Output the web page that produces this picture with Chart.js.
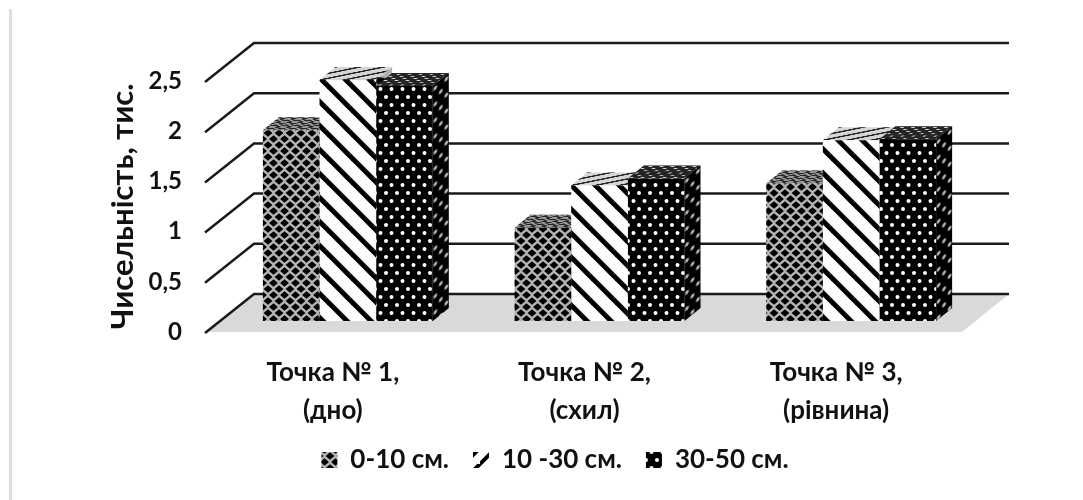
<!DOCTYPE html>
<html>
<head>
<meta charset="utf-8">
<style>
  html, body { margin: 0; padding: 0; background: #fff; }
  #wrap { position: relative; width: 1083px; height: 500px; overflow: hidden; }
  #edge { position: absolute; left: 9px; top: 9px; width: 3px; bottom: 0; background: #dedede; }
  #chart { position: absolute; left: 0; top: 0; filter: blur(0.5px); }
</style>
<script src="https://cdn.jsdelivr.net/npm/chart.js@4"></script>
</head>
<body>
<div id="wrap">
  <div id="edge"></div>
  <canvas id="chart" width="1083" height="500"></canvas>
</div>
<script>
var categories = [["Точка № 1,", "(дно)"], ["Точка № 2,", "(схил)"], ["Точка № 3,", "(рівнина)"]];
var depth0to10 = [1.9, 0.93, 1.37];
var depth10to30 = [2.4, 1.35, 1.8];
var depth30to50 = [2.34, 1.42, 1.81];
var seriesNames = ["0-10 см.", "10 -30 см.", "30-50 см."];
var axisTitle = "Чисельність, тис.";
var fontName = "Lato, 'Open Sans', sans-serif";

function tile(w, h, paint) {
    var c = document.createElement("canvas");
    c.width = w;
    c.height = h;
    paint(c.getContext("2d"));
    return document.createElement("canvas").getContext("2d").createPattern(c, "repeat");
}

function dot(g, x, y, r) {
    g.beginPath();
    g.arc(x, y, r, 0, Math.PI * 2);
    g.fill();
}

function diamond(g, x, y, rx, ry) {
    g.beginPath();
    g.moveTo(x - rx, y);
    g.lineTo(x, y - ry);
    g.lineTo(x + rx, y);
    g.lineTo(x, y + ry);
    g.closePath();
    g.fill();
}

var latticePattern = tile(11, 12, function(g) {
    g.fillStyle = "#b4b4b4";
    g.fillRect(0, 0, 11, 12);
    g.fillStyle = "#000";
    [[0, 0], [11, 0], [0, 12], [11, 12], [5.5, 6]].forEach(function(p) {
        diamond(g, p[0], p[1], 4.4, 3.8);
    });
});

var stripePattern = tile(24, 24, function(g) {
    g.fillStyle = "#fff";
    g.fillRect(0, 0, 24, 24);
    g.strokeStyle = "#000";
    g.lineWidth = 5;
    [-24, 0, 24].forEach(function(s) {
        g.beginPath();
        g.moveTo(s - 4, -4);
        g.lineTo(s + 28, 28);
        g.stroke();
    });
});

var dotPattern = tile(11, 16, function(g) {
    g.fillStyle = "#000";
    g.fillRect(0, 0, 11, 16);
    g.fillStyle = "#fff";
    dot(g, 2.5, 4, 2);
    dot(g, 8, 12, 2);
});

var legendStripe = tile(16, 16, function(g) {
    g.fillStyle = "#fff";
    g.fillRect(0, 0, 16, 16);
    g.strokeStyle = "#000";
    g.lineWidth = 4;
    [0, 16].forEach(function(s) {
        g.beginPath();
        g.moveTo(s - 20, 20);
        g.lineTo(s + 4, -4);
        g.stroke();
    });
});

var barPatterns = [latticePattern, stripePattern, dotPattern];

// depth of the 3d box, and where the bars stand on the floor
var barShift = { x: 15, y: -11 };
var barDepth = { x: 16, y: -13 };
var wallDepth = { x: 47, y: -38 };
var topSquash = 48;

var box3d = {
    id: "box3d",
    afterLayout: function(chart) {
        // the legend sits closer to the labels and further right than the layout puts it
        chart.legend.top = 423;
        chart.legend.left += 22;
        chart.legend.right += 22;
    },
    beforeDatasetsDraw: function(chart) {
        var ctx = chart.ctx;
        var yScale = chart.scales.y;
        var area = chart.chartArea;
        var floorY = yScale.getPixelForValue(0);

        ctx.save();
        ctx.fillStyle = "#d9d9d9";
        ctx.beginPath();
        ctx.moveTo(area.left, floorY);
        ctx.lineTo(area.left + wallDepth.x, floorY + wallDepth.y);
        ctx.lineTo(area.right + wallDepth.x, floorY + wallDepth.y);
        ctx.lineTo(area.right, floorY);
        ctx.closePath();
        ctx.fill();

        ctx.strokeStyle = "#1a1a1a";
        ctx.lineWidth = 2.5;
        yScale.ticks.forEach(function(t) {
            var y = yScale.getPixelForValue(t.value);
            ctx.beginPath();
            ctx.moveTo(area.left - 2, y + 1);
            ctx.lineTo(area.left + wallDepth.x, y + wallDepth.y);
            ctx.lineTo(area.right + wallDepth.x, y + wallDepth.y);
            ctx.stroke();
        });

        // tops and sides, left to right so that each box hides the one before
        categories.forEach(function(c, j) {
            chart.data.datasets.forEach(function(ds, i) {
                var bar = chart.getDatasetMeta(i).data[j];
                var left = bar.x - bar.width / 2 + barShift.x;
                var top = bar.y + barShift.y;
                var h = bar.base - bar.y;

                ctx.save();
                ctx.transform(1, 0, barDepth.x / topSquash, barDepth.y / topSquash, left, top);
                ctx.fillStyle = barPatterns[i];
                ctx.fillRect(0, 0, bar.width, topSquash);
                ctx.fillStyle = "rgba(120,120,120,0.3)";
                ctx.fillRect(0, 0, bar.width, topSquash);
                ctx.restore();

                ctx.save();
                ctx.transform(1, barDepth.y / barDepth.x, 0, 1, left + bar.width, top);
                ctx.fillStyle = barPatterns[i];
                ctx.fillRect(0, 0, barDepth.x, h);
                ctx.fillStyle = "rgba(0,0,0,0.3)";
                ctx.fillRect(0, 0, barDepth.x, h);
                ctx.restore();
            });
        });
        ctx.restore();

        // the library's own bars are the front faces
        ctx.save();
        ctx.translate(barShift.x, barShift.y);
    },
    afterDatasetsDraw: function(chart) {
        chart.ctx.restore();
    }
};

new Chart(document.getElementById("chart"), {
    type: "bar",
    data: {
        labels: categories,
        datasets: [
            { label: seriesNames[0], data: depth0to10, backgroundColor: latticePattern },
            { label: seriesNames[1], data: depth10to30, backgroundColor: stripePattern },
            { label: seriesNames[2], data: depth30to50, backgroundColor: dotPattern }
        ]
    },
    plugins: [box3d],
    options: {
        responsive: false,
        animation: false,
        clip: false,
        categoryPercentage: 0.675,
        barPercentage: 1,
        layout: { padding: { left: 104, right: 121, top: 81, bottom: 8 } },
        plugins: {
            tooltip: { enabled: false },
            legend: {
                position: "bottom",
                labels: {
                    boxWidth: 16,
                    boxHeight: 16,
                    padding: 24,
                    color: "#111",
                    font: { family: fontName, size: 26, weight: "bold" },
                    generateLabels: function(chart) {
                        var items = Chart.defaults.plugins.legend.labels.generateLabels(chart);
                        items[1].fillStyle = legendStripe;
                        return items;
                    }
                }
            }
        },
        scales: {
            x: {
                grid: { display: false },
                border: { display: false },
                afterFit: function(scale) { scale.height = 100; },
                ticks: {
                    maxRotation: 0,
                    autoSkip: false,
                    padding: 14,
                    color: "#111",
                    font: { family: fontName, size: 26, weight: "bold", lineHeight: 1.46 }
                }
            },
            y: {
                min: 0,
                max: 2.5,
                grid: { display: false },
                border: { display: false },
                afterFit: function(scale) { scale.width = 103; },
                title: {
                    display: true,
                    text: axisTitle,
                    color: "#111",
                    padding: 0,
                    font: { family: fontName, size: 31, weight: "bold" }
                },
                ticks: {
                    stepSize: 0.5,
                    padding: 17,
                    color: "#111",
                    font: { family: fontName, size: 24, weight: "bold" },
                    callback: function(v) { return String(v).replace(".", ","); }
                }
            }
        }
    }
});
</script>
</body>
</html>
